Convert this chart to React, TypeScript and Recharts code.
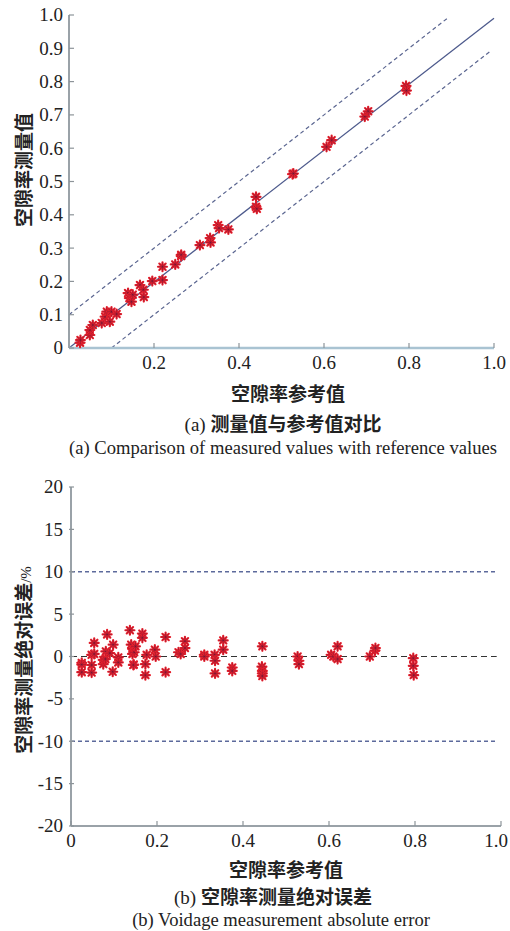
import React from "react";
import {
  ScatterChart,
  Scatter,
  XAxis,
  YAxis,
  ReferenceLine,
} from "recharts";

// (a) reference vs measured voidage
const refA = [
  0.026, 0.027, 0.049, 0.049, 0.056, 0.077, 0.085, 0.089, 0.096, 0.1, 0.112,
  0.139, 0.142, 0.147, 0.15, 0.167, 0.175, 0.176, 0.196, 0.22, 0.22, 0.25,
  0.264, 0.264, 0.308, 0.332, 0.333, 0.351, 0.353, 0.375, 0.44, 0.44, 0.442,
  0.526, 0.528, 0.606, 0.618, 0.696, 0.704, 0.793, 0.794,
];
const measA = [
  0.016, 0.024, 0.039, 0.054, 0.069, 0.075, 0.094, 0.109, 0.079, 0.109, 0.102,
  0.165, 0.15, 0.139, 0.16, 0.189, 0.175, 0.153, 0.201, 0.244, 0.204, 0.251,
  0.276, 0.28, 0.309, 0.33, 0.317, 0.369, 0.36, 0.356, 0.454, 0.424, 0.418,
  0.522, 0.524, 0.604, 0.624, 0.695, 0.711, 0.787, 0.773,
];

// (b) absolute error, %
const refB = [
  0.025, 0.025, 0.025, 0.048, 0.048, 0.048, 0.054, 0.054, 0.075, 0.075, 0.08,
  0.081, 0.084, 0.09, 0.098, 0.097, 0.11, 0.11, 0.137, 0.14, 0.143, 0.143,
  0.146, 0.147, 0.145, 0.15, 0.166, 0.166, 0.176, 0.173, 0.173, 0.195, 0.197,
  0.22, 0.22, 0.25, 0.255, 0.265, 0.265, 0.31, 0.31, 0.334, 0.335, 0.335,
  0.354, 0.354, 0.375, 0.375, 0.445, 0.444, 0.445, 0.445, 0.445, 0.527, 0.53,
  0.53, 0.605, 0.61, 0.62, 0.62, 0.695, 0.707, 0.708, 0.796, 0.796, 0.797,
];
const errB = [
  -0.75, -0.95, -1.85, 0.2, -1.0, -1.9, 1.6, 0.3, -0.9, -0.4, -0.3, 0.6, 2.6,
  0.4, 1.4, -1.8, -0.1, -0.7, 3.1, 1.4, 0.9, 0.3, -0.95, 0.5, -1.0, 1.2, 2.7,
  2.2, 0.2, -0.9, -2.2, 0.8, 0.0, 2.3, -1.85, 0.5, 0.3, 1.8, 1.0, 0.2, 0.0,
  0.2, -0.5, -2.0, 1.9, 0.8, -1.3, -1.7, 1.2, -1.2, -1.7, -2.0, -2.3, 0.0,
  -0.5, -0.9, 0.2, 0.0, 1.2, -0.3, 0.0, 0.7, 1.0, -0.2, -1.1, -2.2,
];

const ticksAx = [0.2, 0.4, 0.6, 0.8, 1.0];
const ticksAy = [0, 0.1, 0.2, 0.3, 0.4, 0.5, 0.6, 0.7, 0.8, 0.9, 1.0];
const ticksBx = [0, 0.2, 0.4, 0.6, 0.8, 1.0];
const ticksBy = [-20, -15, -10, -5, 0, 5, 10, 15, 20];

// y = x fit and +/-0.1 bands
const fitLine = [{ x: 0, y: 0 }, { x: 1.0, y: 0.99 }];
const upperBand = [{ x: 0, y: 0.1 }, { x: 0.89, y: 0.99 }];
const lowerBand = [{ x: 0.1, y: 0 }, { x: 0.99, y: 0.89 }];
const errLimits = [10, -10];
const errSpan = [0, 0.99];

const pointsA = refA.map((r, i) => ({ x: r, y: measA[i] }));
const pointsB = refB.map((r, i) => ({ x: r, y: errB[i] }));

const SERIF = "Liberation Serif, Times New Roman, serif";
const CJK = "'Noto Sans CJK SC', sans-serif";
const MARGIN = 6;
const XMARGIN = 8;
const TICK_FS = 19;

const fmtDec = (v: number) => (v === 0 ? "0" : v.toFixed(1));
const fmtInt = (v: number) => String(v);

const YTick = (props: any) => {
  const { x, y, payload, fmt } = props;
  const ax = x + MARGIN;
  return (
    <g>
      <line x1={ax} x2={ax + 5} y1={y} y2={y} stroke="#8d9499" strokeWidth={1.2} />
      <text x={x} y={y} dy="0.34em" textAnchor="end" fontFamily={SERIF} fontSize={TICK_FS} fill="#222">
        {fmt(payload.value)}
      </text>
    </g>
  );
};

const XTick = (props: any) => {
  const { x, y, payload } = props;
  const ay = y - XMARGIN;
  // keep the last label inside the 510px page
  const tx = Math.min(x, 496);
  return (
    <g>
      <line x1={x} x2={x} y1={ay} y2={ay - 5} stroke="#8d9499" strokeWidth={1.2} />
      <text x={tx} y={y} dy="0.7em" textAnchor="middle" fontFamily={SERIF} fontSize={TICK_FS} fill="#222">
        {fmtDec(payload.value)}
      </text>
    </g>
  );
};

const Asterisk = (props: any) => {
  const { cx, cy } = props;
  if (cx == null || cy == null) return null;
  const r = 4.5;
  const d = r * 0.707;
  const path = `M${cx - r},${cy}L${cx + r},${cy}M${cx},${cy - r}L${cx},${cy + r}M${cx - d},${cy - d}L${cx + d},${cy + d}M${cx - d},${cy + d}L${cx + d},${cy - d}`;
  return (
    <g>
      <circle cx={cx} cy={cy} r={3.2} fill="#f03a44" fillOpacity={0.55} />
      <path d={path} stroke="#e8202c" strokeWidth={2.2} strokeLinecap="round" />
      <path d={path} stroke="#5c1538" strokeWidth={0.6} strokeOpacity={0.7} />
    </g>
  );
};

const abs = (left: number, top: number, style: React.CSSProperties = {}): React.CSSProperties => ({
  position: "absolute",
  left,
  top,
  whiteSpace: "nowrap",
  ...style,
});

const cjkTitle: React.CSSProperties = { fontFamily: CJK, fontWeight: 700, fontSize: 19, color: "#222" };
const serifCap: React.CSSProperties = { fontFamily: SERIF, fontSize: 18.6, color: "#222" };

const Centered = ({ cx, cy, children, style }: { cx: number; cy: number; children: React.ReactNode; style?: React.CSSProperties }) => (
  <div style={abs(cx, cy, { transform: "translate(-50%, -50%)", ...style })}>{children}</div>
);

const Rotated = ({ cx, cy, children, style }: { cx: number; cy: number; children: React.ReactNode; style?: React.CSSProperties }) => (
  <div style={abs(cx, cy, { transform: "translate(-50%, -50%) rotate(-90deg)", ...style })}>{children}</div>
);

export default function App() {
  return (
    <div style={{ position: "absolute", left: 0, top: 0, width: 510, height: 931, background: "#fff", overflow: "hidden" }}>
      <div style={abs(0, 0)}>
        <ScatterChart width={510} height={460} margin={{ top: 15, right: 16, bottom: 82, left: 29 }}>
          <XAxis
            type="number"
            dataKey="x"
            domain={[0, 1]}
            ticks={ticksAx}
            height={30}
            tickSize={0}
            tickMargin={XMARGIN}
            tick={<XTick />}
            axisLine={{ stroke: "#a9c3d2", strokeWidth: 2.5 }}
          />
          <YAxis
            type="number"
            dataKey="y"
            domain={[0, 1]}
            ticks={ticksAy}
            width={40}
            tickSize={0}
            tickMargin={MARGIN}
            tick={<YTick fmt={fmtDec} />}
            axisLine={{ stroke: "#9aa2a8", strokeWidth: 2 }}
          />
          <ReferenceLine segment={upperBand} stroke="#5a6590" strokeWidth={1.2} strokeDasharray="4 3" />
          <ReferenceLine segment={lowerBand} stroke="#5a6590" strokeWidth={1.2} strokeDasharray="4 3" />
          <ReferenceLine segment={fitLine} stroke="#4d5a8c" strokeWidth={1.3} />
          <Scatter data={pointsA} shape={<Asterisk />} isAnimationActive={false} />
        </ScatterChart>
      </div>

      <div style={abs(0, 470)}>
        <ScatterChart width={510} height={461} margin={{ top: 17, right: 9, bottom: 75, left: 29 }}>
          <XAxis
            type="number"
            dataKey="x"
            domain={[0, 1]}
            ticks={ticksBx}
            height={30}
            tickSize={0}
            tickMargin={XMARGIN}
            tick={<XTick />}
            axisLine={{ stroke: "#9aa2a8", strokeWidth: 2 }}
          />
          <YAxis
            type="number"
            dataKey="y"
            domain={[-20, 20]}
            ticks={ticksBy}
            width={42}
            tickSize={0}
            tickMargin={MARGIN + 2}
            tick={<YTick fmt={fmtInt} />}
            axisLine={{ stroke: "#9aa2a8", strokeWidth: 2 }}
          />
          {errLimits.map((v) => (
            <ReferenceLine
              key={v}
              segment={[{ x: errSpan[0], y: v }, { x: errSpan[1], y: v }]}
              stroke="#5d6a9c"
              strokeWidth={1.3}
              strokeDasharray="4 3"
            />
          ))}
          <ReferenceLine
            segment={[{ x: errSpan[0], y: 0 }, { x: errSpan[1], y: 0 }]}
            stroke="#333"
            strokeWidth={1}
            strokeDasharray="6 4"
          />
          <Scatter data={pointsB} shape={<Asterisk />} isAnimationActive={false} />
        </ScatterChart>
      </div>

      <Rotated cx={22} cy={170} style={cjkTitle}>空隙率测量值</Rotated>
      <Centered cx={288} cy={392} style={cjkTitle}>空隙率参考值</Centered>
      <Centered cx={283} cy={422} style={cjkTitle}>
        <span style={{ fontFamily: SERIF, fontWeight: 400 }}>(a) </span>测量值与参考值对比
      </Centered>
      <Centered cx={283} cy={448} style={serifCap}>
        (a) Comparison of measured values with reference values
      </Centered>

      <Rotated cx={22} cy={660} style={cjkTitle}>
        空隙率测量绝对误差<span style={{ fontFamily: SERIF, fontWeight: 400, fontSize: 15 }}>/%</span>
      </Rotated>
      <Centered cx={286} cy={868} style={cjkTitle}>空隙率参考值</Centered>
      <Centered cx={273} cy={895} style={cjkTitle}>
        <span style={{ fontFamily: SERIF, fontWeight: 400 }}>(b) </span>空隙率测量绝对误差
      </Centered>
      <Centered cx={281} cy={920} style={serifCap}>
        (b) Voidage measurement absolute error
      </Centered>
    </div>
  );
}
